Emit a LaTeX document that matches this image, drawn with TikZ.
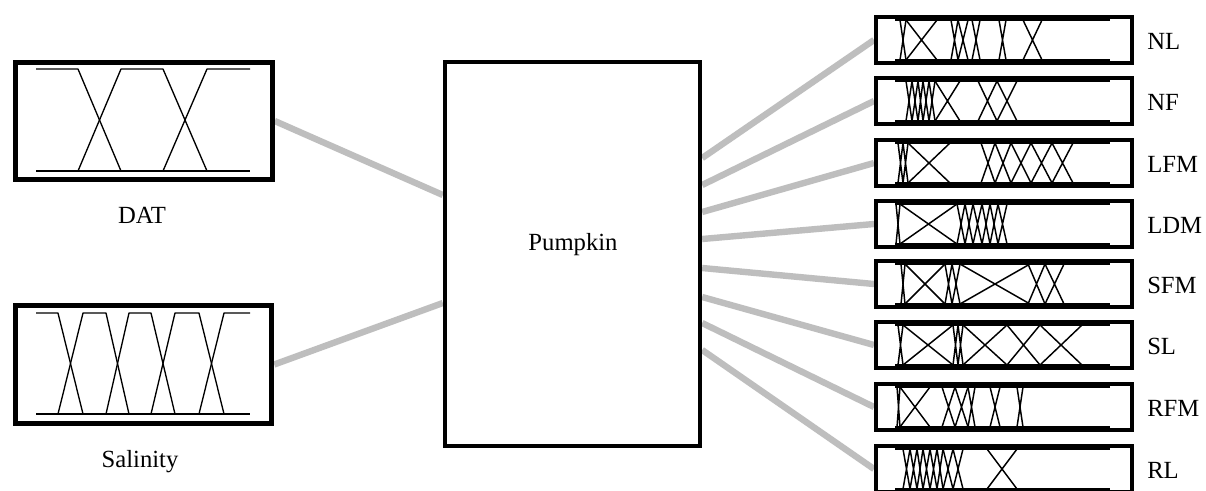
\documentclass[tikz,border=0pt]{standalone}
\usepackage{fontspec}
\setmainfont{Liberation Serif}
\usetikzlibrary{backgrounds}
\definecolor{conngray}{RGB}{190,190,190}
\newcommand\mfset[2]{%
  \draw[mf] (895,#1+5) -- (1110,#1+5) (895,#1+45) -- (1110,#1+45);
  \foreach \a/\b in {#2} {\draw[mf,line width=1.1pt] (\a,#1+5) -- (\b,#1+45) (\a,#1+45) -- (\b,#1+5);}%
}
\begin{document}
\begin{tikzpicture}[x=0.75pt,y=-0.75pt,
  box/.style={draw=black,line width=3pt,fill=white,inner sep=0pt},
  inbox/.style={box,line width=3.6pt,minimum width=192.5pt,minimum height=88pt},
  outbox/.style={box,minimum width=192pt,minimum height=34.5pt},
  conn/.style={draw=conngray,line width=4.8pt},
  mf/.style={draw=black,line width=1pt,line join=round},
  lab/.style={font=\fontsize{18.5}{21}\selectfont,inner sep=0pt,anchor=base}]
\useasboundingbox (0,0) rectangle (1206,490);

% input boxes
\node[inbox] (dat) at (144,121) {};
\node[inbox] (sal) at (143.5,364.5) {};
\node[box,minimum width=191.5pt,minimum height=288pt] (pump) at (572.5,254) {};

% output boxes
\foreach \n/\c in {nl/40,nf/101,lfm/163,ldm/224,sfm/284,sl/345,rfm/407,rl/469}
  \node[outbox] (\n) at (1004,\c) {};

% connectors
\begin{scope}[on background layer]
  \fill[white] (0,0) rectangle (1206,490);
  \draw[conn] (dat.east) -- (pump.west |- 0,195);
  \draw[conn] (sal.east) -- (pump.west |- 0,303);
  \foreach \n/\y in {nl/158,nf/185,lfm/212,ldm/239,sfm/268,sl/297,rfm/323,rl/350}
    \draw[conn] (pump.east |- 0,\y) -- (\n.west);
\end{scope}

% DAT membership functions
\draw[mf] (36,69) -- (78,69) -- (121,171);
\draw[mf] (78,171) -- (121,69) -- (163,69) -- (207,171);
\draw[mf] (163,171) -- (207,69) -- (250,69);
\draw[mf] (36,171) -- (250,171);

% Salinity membership functions
\draw[mf] (36,313) -- (58,313) -- (83,414);
\draw[mf] (58,414) -- (83,313) -- (106,313) -- (129,414);
\draw[mf] (106,414) -- (129,313) -- (151,313) -- (175,414);
\draw[mf] (151,414) -- (175,313) -- (199,313) -- (224,414);
\draw[mf] (199,414) -- (224,313) -- (250,313);
\draw[mf] (36,414) -- (250,414);

% output membership functions
\mfset{15}{900/906,906/937,951/958,958/968,972/980,999/1006,1023/1042}
\mfset{76}{906/912,912/918,918/923,923/929,929/935,935/960,978/997,997/1017}
\mfset{138}{898/903,903/908,908/950,981/995,995/1011,1011/1031,1031/1052,1052/1073}
\mfset{199}{896/900,900/957,957/965,965/973,973/982,982/990,990/998,998/1007}
\mfset{259}{901/905,905/945,945/952,952/960,960/1030,1028/1045,1045/1064}
\mfset{320}{898/903,903/953,953/958,958/963,963/1007,1007/1040,1040/1082}
\mfset{382}{897/900,900/930,942/955,955/968,968/975,990/1000,1017/1023}
\mfset{444}{903/910,910/917,917/923,923/930,930/937,937/943,943/953,953/963,987/1017}

% labels
\node[lab] (tdat) at (142,223) {DAT};
\node[lab] (tsal) at (140,467) {Salinity};
\node[lab] (tpump) at (573,250) {Pumpkin};
\foreach \n/\t/\b in {nl/NL/49,nf/NF/110,lfm/LFM/172,ldm/LDM/233,sfm/SFM/293,sl/SL/354,rfm/RFM/416,rl/RL/478}
  \node[lab,anchor=base west] (t\n) at (1147,\b) {\t};
\end{tikzpicture}
\end{document}
